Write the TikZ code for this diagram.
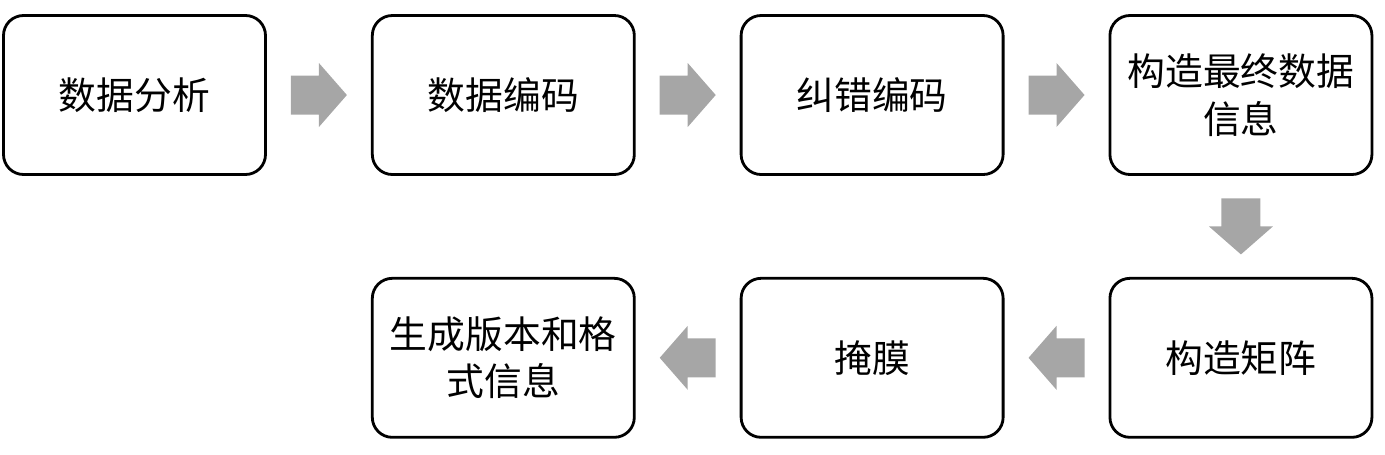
\documentclass[tikz,border=0pt]{standalone}
\usepackage{fontspec}
\newfontfamily\cjk{Noto Sans CJK SC}
\usetikzlibrary{positioning,calc}
\definecolor{arrowgray}{RGB}{166,166,166}
\begin{document}
\begin{tikzpicture}[
  stepbox/.style={draw,line width=1.6pt,rounded corners=0.4cm,minimum width=5.24cm,
    minimum height=3.18cm,inner sep=0pt,align=center,font=\cjk\fontsize{21.5}{27}\selectfont},
  blockarrow/.style={fill=arrowgray,draw=none}
]
\useasboundingbox (0,0) rectangle (27.7,-9.08);
% first row
\node[stepbox] (s1) at (2.69,-1.9) {数据分析};
\node[stepbox,right=2.08cm of s1] (s2) {数据编码};
\node[stepbox,right=2.08cm of s2] (s3) {纠错编码};
\node[stepbox,right=2.08cm of s3] (s4) {构造最终数据\\信息};
% second row
\node[stepbox,below=2.02cm of s4] (s5) {构造矩阵};
\node[stepbox,left=2.08cm of s5] (s6) {掩膜};
\node[stepbox,left=2.08cm of s6] (s7) {生成版本和格\\式信息};
% grey arrows
\foreach \a/\b/\r in {s1/s2/0,s2/s3/0,s3/s4/0,s4/s5/270,s5/s6/180,s6/s7/180}
{
    \fill[blockarrow,shift={($(\a)!.5!(\b)$)},rotate=\r]
      (-0.56,-0.39) -- (0,-0.39) -- (0,-0.64) -- (0.56,0)
      -- (0,0.64) -- (0,0.39) -- (-0.56,0.39) -- cycle;
}
\end{tikzpicture}
\end{document}
